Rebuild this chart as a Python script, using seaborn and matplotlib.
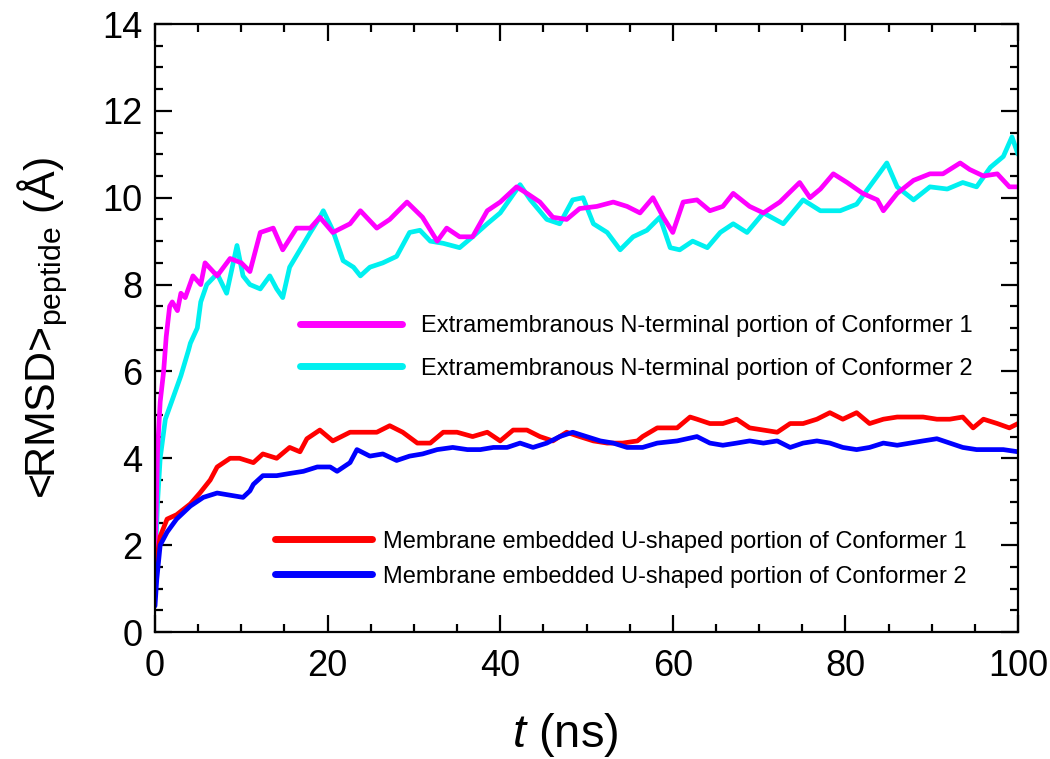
import matplotlib
matplotlib.use("Agg")
import matplotlib.pyplot as plt
from matplotlib.lines import Line2D
from matplotlib.ticker import MultipleLocator
import seaborn as sns
import pandas as pd

# ---- data ----
t_mag = [0, 0.3, 0.6, 1.0, 1.3, 1.7, 2.0, 2.6, 3.0, 3.5, 4.4, 5.3, 5.8, 7.2, 8.7, 10.0, 11.0, 12.2, 13.7, 14.8,
         16.4, 18.0, 19.1, 20.6, 22.6, 23.8, 25.7, 27.2, 29.2, 31.0, 32.7, 33.8, 35.3, 36.8, 38.5, 40.0, 41.9, 43.1,
         44.6, 46.1, 47.7, 49.2, 51.2, 53.1, 54.7, 56.2, 57.7, 58.9, 60.0, 61.2, 62.8, 64.3, 65.8, 67.0, 68.9, 70.5,
         72.4, 74.7, 75.9, 77.1, 78.6, 80.2, 82.0, 83.7, 84.4, 86.0, 87.9, 89.8, 91.3, 93.3, 94.4, 96.0, 97.6, 99.0, 100.0]
v_mag = [1.6, 4.2, 5.3, 6.0, 6.8, 7.5, 7.6, 7.4, 7.8, 7.7, 8.2, 8.0, 8.5, 8.2, 8.6, 8.5, 8.3, 9.2, 9.3, 8.8,
         9.3, 9.3, 9.55, 9.2, 9.4, 9.7, 9.3, 9.5, 9.9, 9.55, 9.0, 9.3, 9.1, 9.1, 9.7, 9.9, 10.25, 10.1,
         9.9, 9.55, 9.5, 9.75, 9.8, 9.9, 9.8, 9.65, 10.0, 9.55, 9.2, 9.9, 9.95, 9.7, 9.8, 10.1, 9.8, 9.65,
         9.9, 10.35, 10.0, 10.2, 10.55, 10.35, 10.1, 9.95, 9.7, 10.1, 10.4, 10.55, 10.55, 10.8, 10.65, 10.5, 10.55, 10.25, 10.25]

t_cya = [0, 0.3, 0.6, 1.2, 2.1, 3.0, 3.9, 4.1, 4.9, 5.3, 6.0, 7.2, 8.3, 9.5, 10.2, 11.0, 12.2, 13.3, 14.1, 14.8,
         15.6, 16.8, 18.0, 19.1, 19.5, 20.6, 21.8, 23.0, 23.8, 24.9, 26.4, 28.0, 29.5, 30.7, 31.9, 33.4, 35.3, 36.8,
         38.5, 40.0, 42.3, 43.5, 45.4, 46.9, 48.4, 49.6, 50.8, 52.4, 53.9, 55.4, 57.0, 58.5, 59.7, 60.8, 62.3, 64.0,
         65.5, 67.0, 68.6, 70.5, 72.8, 75.1, 77.1, 79.4, 81.3, 83.7, 84.8, 86.0, 87.9, 89.8, 91.8, 93.6, 95.2, 96.8,
         98.3, 99.3, 100.0]
v_cya = [1.5, 3.0, 4.0, 4.9, 5.4, 5.9, 6.5, 6.65, 7.0, 7.6, 8.0, 8.25, 7.8, 8.9, 8.2, 8.0, 7.9, 8.2, 7.9, 7.7,
         8.4, 8.8, 9.2, 9.55, 9.7, 9.25, 8.55, 8.4, 8.2, 8.4, 8.5, 8.65, 9.2, 9.25, 9.0, 8.95, 8.85, 9.1,
         9.4, 9.65, 10.3, 9.95, 9.5, 9.4, 9.95, 10.0, 9.4, 9.2, 8.8, 9.1, 9.25, 9.55, 8.85, 8.8, 9.0, 8.85,
         9.2, 9.4, 9.2, 9.65, 9.4, 9.95, 9.7, 9.7, 9.85, 10.5, 10.8, 10.25, 9.95, 10.25, 10.2, 10.35, 10.25, 10.7,
         10.95, 11.4, 11.0]

t_red = [0, 0.3, 0.6, 1.4, 2.5, 4.1, 5.2, 6.4, 7.2, 8.7, 9.8, 11.4, 12.5, 14.1, 15.6, 16.8, 17.6, 19.1, 20.6, 22.6,
         24.1, 25.7, 27.2, 28.7, 30.4, 31.9, 33.4, 35.0, 36.8, 38.5, 40.0, 41.5, 43.1, 44.6, 46.1, 47.7, 49.2, 50.8,
         52.4, 54.2, 55.9, 56.5, 58.2, 60.5, 62.0, 62.8, 64.3, 65.8, 67.4, 68.9, 70.5, 72.1, 73.6, 75.1, 76.7, 78.2,
         79.7, 81.3, 82.8, 84.4, 86.0, 87.5, 89.0, 90.6, 92.1, 93.6, 94.8, 96.0, 97.6, 99.0, 100.0]
v_red = [0.9, 1.8, 2.2, 2.6, 2.7, 2.95, 3.2, 3.5, 3.8, 4.0, 4.0, 3.9, 4.1, 4.0, 4.25, 4.15, 4.45, 4.65, 4.4, 4.6,
         4.6, 4.6, 4.75, 4.6, 4.35, 4.35, 4.6, 4.6, 4.5, 4.6, 4.4, 4.65, 4.65, 4.5, 4.4, 4.6, 4.5, 4.4,
         4.35, 4.35, 4.4, 4.5, 4.7, 4.7, 4.95, 4.9, 4.8, 4.8, 4.9, 4.7, 4.65, 4.6, 4.8, 4.8, 4.9, 5.05,
         4.9, 5.05, 4.8, 4.9, 4.95, 4.95, 4.95, 4.9, 4.9, 4.95, 4.7, 4.9, 4.8, 4.7, 4.8]

t_blu = [0, 0.2, 0.6, 1.4, 2.5, 4.1, 5.6, 7.2, 8.7, 10.2, 11.0, 11.4, 12.5, 14.1, 15.6, 17.2, 18.8, 20.3, 21.1, 22.6,
         23.4, 24.9, 26.4, 28.0, 29.5, 31.0, 32.7, 34.5, 36.2, 37.7, 39.2, 40.8, 42.3, 43.8, 45.4, 46.9, 48.4, 50.0,
         51.6, 53.1, 54.7, 56.5, 58.2, 60.5, 62.8, 64.3, 65.8, 67.4, 68.9, 70.5, 72.1, 73.6, 75.1, 76.7, 78.2, 79.7,
         81.3, 82.8, 84.4, 86.0, 87.5, 89.0, 90.6, 92.1, 93.6, 95.2, 96.8, 98.3, 100.0]
v_blu = [0.6, 1.2, 2.0, 2.3, 2.6, 2.9, 3.1, 3.2, 3.15, 3.1, 3.25, 3.4, 3.6, 3.6, 3.65, 3.7, 3.8, 3.8, 3.7, 3.9,
         4.2, 4.05, 4.1, 3.95, 4.05, 4.1, 4.2, 4.25, 4.2, 4.2, 4.25, 4.25, 4.35, 4.25, 4.35, 4.5, 4.6, 4.5,
         4.4, 4.35, 4.25, 4.25, 4.35, 4.4, 4.5, 4.35, 4.3, 4.35, 4.4, 4.35, 4.4, 4.25, 4.35, 4.4, 4.35, 4.25,
         4.2, 4.25, 4.35, 4.3, 4.35, 4.4, 4.45, 4.35, 4.25, 4.2, 4.2, 4.2, 4.15]

labels = ["Extramembranous N-terminal portion of Conformer 1",
          "Extramembranous N-terminal portion of Conformer 2",
          "Membrane embedded U-shaped portion of Conformer 1",
          "Membrane embedded U-shaped portion of Conformer 2"]
colors = ["#FF00FF", "#00F0F0", "#FF0000", "#0000FF"]

x_ticks = [0, 20, 40, 60, 80, 100]
y_ticks = [0, 2, 4, 6, 8, 10, 12, 14]

# ---- style ----
sns.set_style("ticks")
plt.rcParams["font.family"] = ["Liberation Sans", "DejaVu Sans"]
plt.rcParams["mathtext.fontset"] = "custom"
plt.rcParams["mathtext.rm"] = "Liberation Sans"
plt.rcParams["mathtext.it"] = "Liberation Sans:italic"
plt.rcParams["text.color"] = "black"
plt.rcParams["axes.labelcolor"] = "black"

fig = plt.figure(figsize=(10.5, 7.59), dpi=100)
ax = fig.add_axes([155 / 1050, 1 - 632 / 759, (1018 - 155) / 1050, (632 - 24) / 759])

series = [(t_cya, v_cya, 1), (t_mag, v_mag, 0), (t_red, v_red, 2), (t_blu, v_blu, 3)]
for tt, vv, i in series:
    df = pd.DataFrame({"t": tt, "v": vv})
    sns.lineplot(data=df, x="t", y="v", color=colors[i], lw=3.4, ax=ax, legend=False)

ax.set_xlim(0, 100)
ax.set_ylim(0, 14)
ax.set_xticks(x_ticks)
ax.set_yticks(y_ticks)
ax.xaxis.set_minor_locator(MultipleLocator(5))
ax.yaxis.set_minor_locator(MultipleLocator(0.5))
ax.tick_params(which="both", direction="in", top=True, right=True, width=1.6, colors="black")
ax.tick_params(which="major", length=12, labelsize=26)
ax.tick_params(axis="y", which="major", pad=9)
ax.tick_params(axis="x", which="major", pad=12)
ax.tick_params(which="minor", length=6)
for s in ax.spines.values():
    s.set_linewidth(1.6)
    s.set_color("black")

ax.set_xlabel(r"$\it{t}$ (ns)", fontsize=34)
ax.xaxis.set_label_coords(0.475, -0.13)
ax.set_ylabel(r"<RMSD>$_{\mathregular{peptide}}$ (Å)", fontsize=31)
ax.yaxis.set_label_coords(-0.098, 0.5)

h_top = [Line2D([], [], color=colors[0], lw=5, solid_capstyle="round"),
         Line2D([], [], color=colors[1], lw=5, solid_capstyle="round")]
h_bot = [Line2D([], [], color=colors[2], lw=5, solid_capstyle="round"),
         Line2D([], [], color=colors[3], lw=5, solid_capstyle="round")]

leg1 = ax.legend(h_top, labels[:2], loc="center left", bbox_to_anchor=(0.168, 0.468),
                 frameon=False, fontsize=17, handlelength=4.3, handletextpad=0.82,
                 labelspacing=0.86, borderpad=0, borderaxespad=0)
ax.add_artist(leg1)
ax.legend(h_bot, labels[2:], loc="center left", bbox_to_anchor=(0.139, 0.12),
          frameon=False, fontsize=17, handlelength=4.1, handletextpad=0.48,
          labelspacing=0.55, borderpad=0, borderaxespad=0)

fig.savefig("out.png", dpi=100)
